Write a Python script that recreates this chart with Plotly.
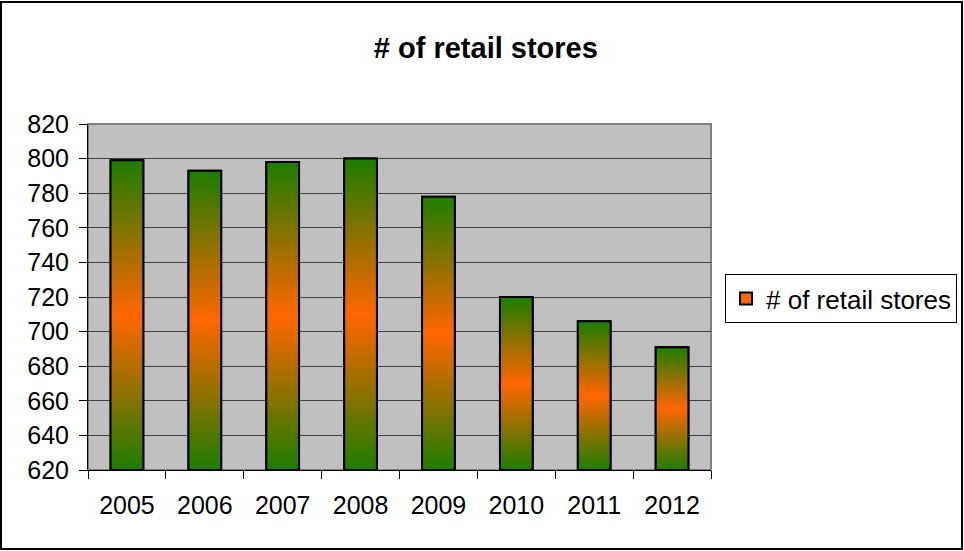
import plotly.graph_objects as go

# ---- data ----
years = ["2005", "2006", "2007", "2008", "2009", "2010", "2011", "2012"]
stores = [799, 793, 798, 800, 778, 720, 706, 691]
series_name = "# of retail stores"
chart_title = "# of retail stores"

# ---- style ----
y_min, y_max, y_step = 620, 820, 20
bar_width = 0.42
green = "#1d7d00"
orange = "#ff6600"
tick_font = dict(family="Liberation Sans, Arial, sans-serif", size=25, color="black")
legend_font = dict(family="Liberation Sans, Arial, sans-serif", size=26, color="black")

xs = list(range(len(years)))
fig = go.Figure()

# base bar trace (legend entry + fallback fill)
fig.add_trace(go.Bar(
    x=xs, y=[v - y_min for v in stores], base=y_min, width=bar_width,
    name=series_name, marker=dict(color=orange, line=dict(color="black", width=2)),
    showlegend=True, hoverinfo="skip",
))

# gradient overlay for each bar
half = bar_width / 2
for i, v in zip(xs, stores):
    fig.add_trace(go.Scatter(
        x=[i - half, i - half, i + half, i + half, i - half],
        y=[y_min, v, v, y_min, y_min],
        mode="lines", fill="toself",
        fillgradient=dict(type="vertical",
                          colorscale=[[0, green], [0.5, orange], [1, green]]),
        line=dict(color="black", width=2),
        showlegend=False, hoverinfo="skip",
    ))

fig.update_layout(
    width=964, height=551,
    margin=dict(l=88, r=253, t=124, b=81, autoexpand=False),
    paper_bgcolor="white",
    plot_bgcolor="#c0c0c0",
    title=dict(text="<b>" + chart_title + "</b>", x=0.504, xref="container",
               y=0.913, yref="container", xanchor="center", yanchor="middle",
               font=dict(family="Liberation Sans Narrow, Liberation Sans, Arial, sans-serif",
                         size=29, color="black")),
    showlegend=True,
    legend=dict(xref="container", yref="container", x=725 / 964, xanchor="left",
                y=1 - 274 / 551, yanchor="top",
                bgcolor="white", bordercolor="black", borderwidth=1,
                font=legend_font, itemwidth=30, tracegroupgap=0),
    xaxis=dict(range=[-0.5, len(years) - 0.5], tickvals=xs, ticktext=years,
               ticks="", showgrid=False, zeroline=False,
               showline=True, linecolor="black", linewidth=1,
               tickfont=tick_font, ticklabelstandoff=13,
               minor=dict(tickvals=[i - 0.5 for i in range(len(years) + 1)],
                          ticks="outside", ticklen=8, tickcolor="black",
                          showgrid=False)),
    yaxis=dict(range=[y_min, y_max], dtick=y_step, tick0=y_min,
               ticks="outside", ticklen=8, tickcolor="black",
               showgrid=True, gridcolor="#404040", gridwidth=1,
               zeroline=False, showline=True, linecolor="black", linewidth=1,
               tickfont=tick_font, ticklabelstandoff=5),
    shapes=[
        # plot area border (top/right gray)
        dict(type="rect", xref="paper", yref="paper", x0=0, x1=1, y0=0, y1=1,
             line=dict(color="#808080", width=2), layer="below"),
        # outer chart frame
        dict(type="rect", xref="paper", yref="paper",
             x0=-87 / 623, x1=874 / 623, y0=-79 / 346, y1=(346 + 122) / 346,
             line=dict(color="black", width=2), layer="above"),
    ],
)

fig.write_html("out.html")
